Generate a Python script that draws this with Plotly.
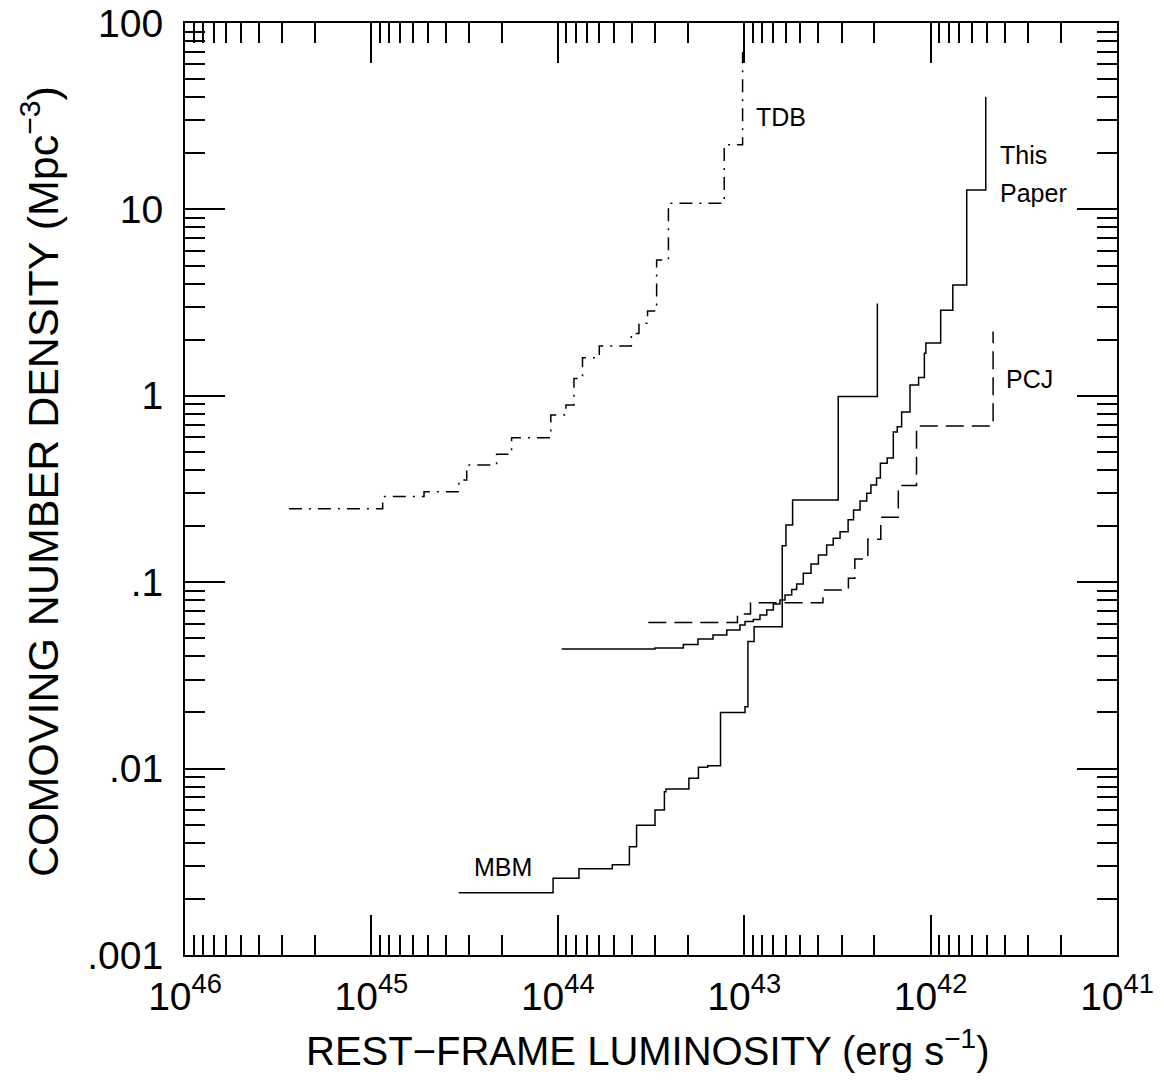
import plotly.graph_objects as go

# ---------------- data ----------------
# TDB (dash-dot)
tdb_lum = [2.77e45, 8.7e44, 5.22e44, 3.39e44, 3.08e44, 2.13e44, 1.77e44, 1.09e44,
           9.04e43, 8.19e43, 7.37e43, 5.99e43, 4.03e43, 3.67e43, 3.30e43, 2.95e43,
           2.55e43, 1.28e43, 1.02e43]
tdb_den = [0.248, 0.288, 0.306, 0.353, 0.425, 0.486, 0.596, 0.789,
           0.893, 1.24, 1.60, 1.85, 2.16, 2.45, 2.85, 5.35,
           10.8, 22.2, 69.9]

# This Paper (solid, smooth staircase)
paper_lum = [9.53e43, 3.01e43, 2.12e43, 1.77e43, 1.47e43, 1.24e43, 1.054e43, 9.9e42,
             8.94e42, 8.23e42, 7.57e42, 6.98e42, 6.43e42, 6.04e42, 5.56e42, 5.23e42,
             4.82e42, 4.38e42, 4.0e42, 3.61e42, 3.33e42, 3.06e42, 2.77e42, 2.59e42,
             2.39e42, 2.20e42, 2.09e42, 1.95e42, 1.86e42, 1.71e42, 1.585e42, 1.51e42,
             1.43e42, 1.29e42, 1.16e42, 1.08e42, 1.06e42, 8.83e41, 7.6e41, 6.4e41,
             5.06e41]
paper_den = [0.0438, 0.0443, 0.0463, 0.0496, 0.0521, 0.0554, 0.0589, 0.0615,
             0.0631, 0.0667, 0.0710, 0.0764, 0.0803, 0.0853, 0.0914, 0.0977,
             0.1117, 0.1253, 0.140, 0.1585, 0.172, 0.1866, 0.216, 0.244,
             0.273, 0.300, 0.332, 0.362, 0.434, 0.464, 0.640, 0.683,
             0.818, 1.143, 1.254, 1.69, 1.92, 2.88, 3.93, 12.7,
             40.2]

# PCJ (dashed)
pcj_lum = [3.27e43, 1.087e43, 9.25e42, 3.78e42, 2.76e42, 2.55e42, 2.17e42, 1.85e42,
           1.49e42, 1.19e42, 4.62e41]
pcj_den = [0.0608, 0.0676, 0.0776, 0.0908, 0.105, 0.133, 0.170, 0.223,
           0.330, 0.689, 2.21]

# MBM (solid)
mbm_lum = [3.4e44, 1.06e44, 7.7e43, 5.1e43, 4.13e43, 3.78e43, 3.01e43, 2.68e43,
           2.63e43, 1.98e43, 1.76e43, 1.57e43, 1.34e43, 9.9e42, 9.55e42, 8.85e42,
           6.25e42, 5.97e42, 5.5e42, 3.13e42, 1.93e42]
mbm_den = [0.00216, 0.00258, 0.0029, 0.00305, 0.00381, 0.00496, 0.0060, 0.00752,
           0.00778, 0.00887, 0.01016, 0.01037, 0.020, 0.0215, 0.048, 0.0577,
           0.157, 0.203, 0.276, 0.99, 3.13]

# ticks
x_major = [1e46, 1e45, 1e44, 1e43, 1e42, 1e41]
x_major_text = ["10<sup>46</sup>", "10<sup>45</sup>", "10<sup>44</sup>",
                "10<sup>43</sup>", "10<sup>42</sup>", "10<sup>41</sup>"]
x_minor = [m * 10.0 ** k for k in range(41, 46) for m in range(2, 10)]
y_major = [0.001, 0.01, 0.1, 1, 10, 100]
y_major_text = [".001", ".01", ".1", "1", "10", "100"]
y_minor = [m * 10.0 ** k for k in range(-3, 2) for m in range(2, 10)]

FONT = "Liberation Sans"

fig = go.Figure()
LW = 1.5
fig.add_trace(go.Scatter(x=tdb_lum, y=tdb_den, mode="lines", name="TDB",
                         line=dict(shape="hv", color="black", width=LW,
                                   dash="13px,7px,2px,7px")))
fig.add_trace(go.Scatter(x=paper_lum, y=paper_den, mode="lines", name="This Paper",
                         line=dict(shape="hv", color="black", width=LW)))
fig.add_trace(go.Scatter(x=pcj_lum, y=pcj_den, mode="lines", name="PCJ",
                         line=dict(shape="hv", color="black", width=LW,
                                   dash="18px,8px")))
fig.add_trace(go.Scatter(x=mbm_lum, y=mbm_den, mode="lines", name="MBM",
                         line=dict(shape="hv", color="black", width=LW)))

axis_common = dict(
    type="log", showgrid=False, zeroline=False, showline=True, automargin=False,
    linecolor="black", linewidth=2, mirror="allticks", ticklabeloverflow="allow",
    ticks="inside", ticklen=40, tickwidth=1.5, tickcolor="black",
    tickfont=dict(family=FONT, size=39, color="black"),
)

fig.update_xaxes(**axis_common, range=[46, 41], tickmode="array",
                 tickvals=x_major, ticktext=x_major_text, ticklabelstandoff=6,
                 minor=dict(tickmode="array", tickvals=x_minor, ticks="inside",
                            ticklen=20, tickwidth=1.5, tickcolor="black",
                            showgrid=False))
fig.update_yaxes(**axis_common, range=[-3, 2], tickmode="array",
                 tickvals=y_major, ticktext=y_major_text, ticklabelstandoff=12,
                 minor=dict(tickmode="array", tickvals=y_minor, ticks="inside",
                            ticklen=20, tickwidth=1.5, tickcolor="black",
                            showgrid=False))

# screen pixel -> paper coordinates (plot area spans x 185..1117, y 23..955 on screen)
def px_to_paper(px, py):
    return (px - 185) / 932.0, (955 - py) / 932.0

annots = []
for text, px, py, anchor in [("TDB", 754, 117, "left"),
                             ("This", 998, 155, "left"),
                             ("Paper", 998, 193, "left"),
                             ("PCJ", 1004, 379, "left"),
                             ("MBM", 472, 867, "left")]:
    ax_, ay_ = px_to_paper(px, py)
    annots.append(dict(text=text, x=ax_, y=ay_, xref="paper", yref="paper",
                       xanchor=anchor, yanchor="middle", showarrow=False,
                       font=dict(family=FONT, size=25, color="black")))

tx, ty = px_to_paper(648, 1048)
annots.append(dict(text="REST\u2212FRAME LUMINOSITY (erg s<sup>\u22121</sup>)",
                   x=tx, y=ty, xref="paper", yref="paper", xanchor="center",
                   yanchor="middle", showarrow=False,
                   font=dict(family=FONT, size=40, color="black")))
yx, yy = px_to_paper(40, 482)
annots.append(dict(text="COMOVING NUMBER DENSITY (Mpc<sup>\u22123</sup>)",
                   x=yx, y=yy, xref="paper", yref="paper", xanchor="center",
                   yanchor="middle", textangle=-90, showarrow=False,
                   font=dict(family=FONT, size=43, color="black")))

# the page body adds an 8px offset, so margins are reduced on the left/top
fig.update_layout(
    width=1164, height=1086,
    margin=dict(l=177, r=55, t=15, b=139),
    plot_bgcolor="white", paper_bgcolor="white",
    showlegend=False, annotations=annots,
)

fig.write_html("out.html")
